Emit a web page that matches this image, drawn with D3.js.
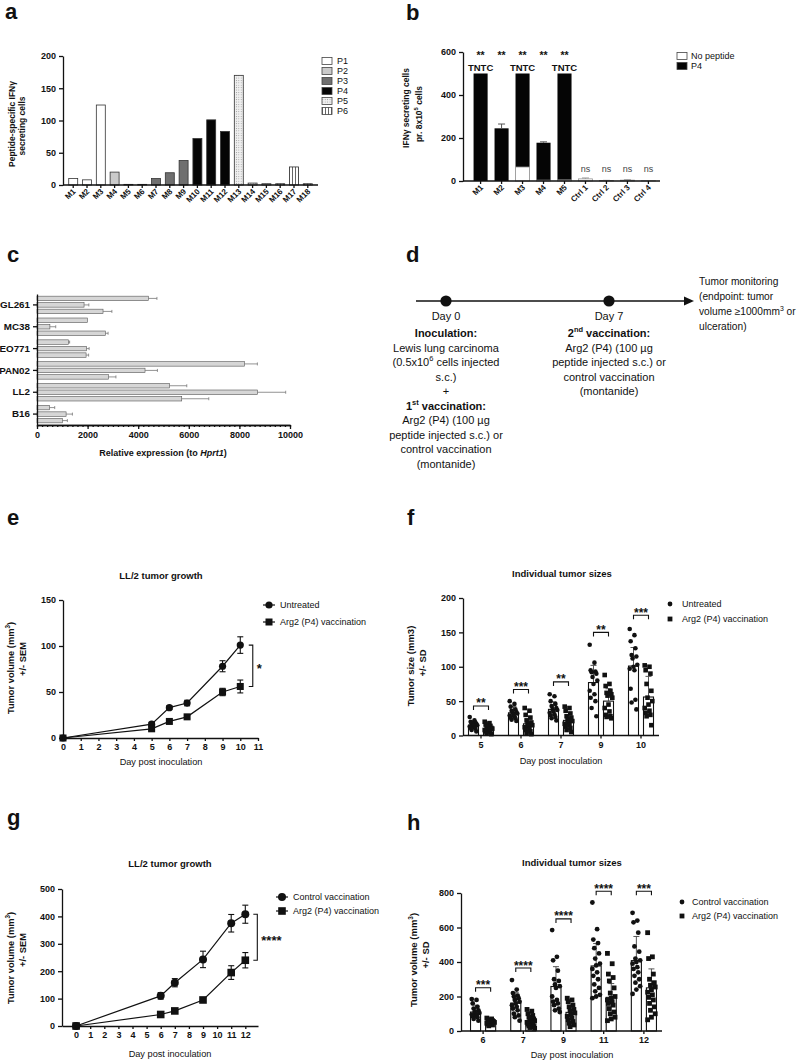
<!DOCTYPE html>
<html><head><meta charset="utf-8">
<script src="https://cdn.jsdelivr.net/npm/d3@7"></script>
<style>
body{margin:0;background:#fff;}
svg{display:block;}
</style></head><body>
<svg id="chart" width="800" height="1061"></svg>
<script>
// ================= DATA =================
// Panel a
const aCategories = ["M1","M2","M3","M4","M5","M6","M7","M8","M9","M10","M11","M12","M13","M14","M15","M16","M17","M18"];
const aValues = [10,8,124,20,1,1,10,19,38,72,101,83,170,3,2,2,28,2];
const aPeptides = ["P1","P1","P1","P2","P2","P2","P3","P3","P3","P4","P4","P4","P5","P5","P5","P6","P6","P6"];
const aLegend = ["P1","P2","P3","P4","P5","P6"];
const aTicks = [0,50,100,150,200];

// Panel b
const bCategories = ["M1","M2","M3","M4","M5","Ctrl 1","Ctrl 2","Ctrl 3","Ctrl 4"];
const bP4 = [500,245,500,178,500,0,0,0,0];
const bP4Err = [0,20,0,4,0,0,0,0,0];
const bNoPeptide = [0,0,65,4,5,10,2,4,1];
const bNoPeptideErr = [0,0,0,0,0,4,1,2,0];
const bSignif = ["**","**","**","**","**","ns","ns","ns","ns"];
const bTNTC = ["TNTC","","TNTC","","TNTC","","","",""];
const bLegend = ["No peptide","P4"];
const bTicks = [0,200,400,600];

// Panel c
const cCategories = ["GL261","MC38","EO771","PAN02","LL2","B16"];
const cBar1 = [4400,1990,1240,8200,5240,500];
const cBar1Err = [340,0,50,510,680,200];
const cBar2 = [1860,510,1960,4270,8720,1150];
const cBar2Err = [190,230,100,490,1110,250];
const cBar3 = [2610,2700,1940,2820,5720,1000];
const cBar3Err = [350,110,100,300,1070,200];
const cTicks = [0,2000,4000,6000,8000,10000];

// Panel d (timeline)
const dDays = [0,7];
const dDayLabels = ["Day 0","Day 7"];

// Panel e
const eDays = [0,5,6,7,9,10];
const eUntreated = [0,15,33,38,78,101];
const eUntreatedSEM = [0,2,2,3,6,9];
const eArg2 = [0,10,18,23,50,56];
const eArg2SEM = [0,2,2,2,4,7];
const eXTicks = [0,1,2,3,4,5,6,7,8,9,10,11];
const eYTicks = [0,50,100,150];
const eLegend = ["Untreated","Arg2 (P4) vaccination"];
const eSignif = "*";

// Panel f
const fDays = ["5","6","7","9","10"];
const fUntreatedMean = [15,33,38,77,101];
const fUntreatedSD = [6,9,11,25,27];
const fArg2Mean = [10,17,22,50,56];
const fArg2SD = [5,11,12,18,30];
const fUntreatedPoints = [
  [27,22,20,19,18,17,16,15,14,13,12,11,10,8,6],
  [50,46,42,38,36,34,33,32,30,29,28,26,25,23,21],
  [60,57,50,46,43,40,38,37,35,33,31,29,27,25,22],
  [132,106,95,93,92,90,85,80,75,65,60,55,50,40,28],
  [155,146,137,127,117,115,112,103,100,97,95,68,52,48,38]
];
const fArg2Points = [
  [20,18,16,14,12,11,10,10,9,8,7,6,5,3,2],
  [40,36,30,26,22,19,17,15,14,12,10,8,6,4,2],
  [42,40,36,32,28,26,23,21,19,17,15,13,11,8,5],
  [88,75,72,65,62,60,58,55,45,40,35,30,28,27,25],
  [102,100,95,90,75,65,55,50,45,40,36,33,30,28,15]
];
const fSignif = ["**","***","**","**","***"];
const fSignifLevel = [43,67,78,150,175];
const fYTicks = [0,50,100,150,200];
const fLegend = ["Untreated","Arg2 (P4) vaccination"];

// Panel g
const gDays = [0,6,7,9,11,12];
const gControl = [0,110,158,243,375,408];
const gControlSEM = [0,12,15,30,32,33];
const gArg2 = [0,42,55,95,195,240];
const gArg2SEM = [0,5,6,8,25,28];
const gXTicks = [0,1,2,3,4,5,6,7,8,9,10,11,12];
const gYTicks = [0,100,200,300,400,500];
const gLegend = ["Control vaccination","Arg2 (P4) vaccination"];
const gSignif = "****";

// Panel h
const hDays = ["6","7","9","11","12"];
const hControlMean = [110,162,258,377,408];
const hControlSD = [40,60,115,130,140];
const hArg2Mean = [55,58,108,195,250];
const hArg2SD = [18,30,40,80,110];
const hControlPoints = [
  [185,180,160,140,130,120,110,105,100,95,90,85,80,70,60],
  [295,240,220,205,200,190,180,170,160,150,140,130,120,100,90,80,60],
  [585,430,410,350,300,290,270,260,250,200,180,170,160,150,130,120,110],
  [745,590,530,510,480,450,420,390,380,360,340,320,300,270,250,230,210,200,190],
  [685,640,630,570,490,460,420,410,400,390,370,360,340,320,300,280,260,240,215]
];
const hArg2Points = [
  [75,70,65,60,58,55,52,50,48,45,42,40,35,30],
  [125,115,100,90,80,70,65,60,55,50,45,40,35,30,25,20,15],
  [190,180,170,150,140,125,115,105,95,85,75,65,55,45,35,25],
  [450,390,330,310,290,250,220,200,190,180,170,160,150,130,110,100,80,70,60],
  [570,430,420,330,300,280,265,255,240,225,210,195,180,160,140,120,100,80,65]
];
const hSignif = ["***","****","****","****","***"];
const hSignifLevel = [251,365,650,810,810];
const hYTicks = [0,200,400,600,800];
const hLegend = ["Control vaccination","Arg2 (P4) vaccination"];

// ================= HELPERS =================
const FONT = "'Liberation Sans', Arial, Helvetica, sans-serif";
const INK = "#111";
const TICK_FS = 9;
const svg = d3.select("#chart").attr("font-family", FONT);

const defs = svg.append("defs");
const p5 = defs.append("pattern").attr("id","pat5").attr("patternUnits","userSpaceOnUse").attr("width",2.4).attr("height",2.4);
p5.append("rect").attr("width",2.4).attr("height",2.4).attr("fill","#f0f0f0");
p5.append("circle").attr("cx",1.2).attr("cy",1.2).attr("r",0.5).attr("fill","#8a8a8a");
const p6 = defs.append("pattern").attr("id","pat6").attr("patternUnits","userSpaceOnUse").attr("width",3).attr("height",10);
p6.append("rect").attr("width",3).attr("height",10).attr("fill","#fff");
p6.append("line").attr("x1",1.5).attr("x2",1.5).attr("y1",0).attr("y2",10).attr("stroke","#555").attr("stroke-width",0.9);

function styleAxis(g, fs = TICK_FS, weight = "bold") {
  g.attr("font-family", FONT).attr("font-size", fs).attr("font-weight", weight);
  g.select(".domain").attr("stroke", INK).attr("stroke-width", 1.3);
  g.selectAll(".tick line").attr("stroke", INK).attr("stroke-width", 1.3);
  g.selectAll(".tick text").attr("fill", INK);
  return g;
}
function rich(parent, x, y, segs, o = {}) {
  const fs = o.fs || 9;
  const t = parent.append("text").attr("x", x).attr("y", y).attr("font-size", fs)
    .attr("text-anchor", o.anchor || "start").attr("fill", o.fill || INK)
    .attr("font-weight", o.bold ? "bold" : "normal");
  let shifted = false;
  segs.forEach(s => {
    if (typeof s === "string") s = {t: s};
    const ts = t.append("tspan").text(s.t);
    if (s.sup) { ts.attr("font-size", fs * 0.68).attr("dy", -fs * 0.42); shifted = true; }
    else if (shifted) { ts.attr("dy", fs * 0.42); shifted = false; }
    if (s.bold) ts.attr("font-weight", "bold");
    if (s.it) ts.attr("font-style", "italic");
  });
  return t;
}
function txt(x, y, str, o = {}) { return rich(svg, x, y, [str], o); }
function yTitle(cy, baseX, segs, fs) {
  const g = svg.append("g").attr("transform", `translate(0,${cy}) rotate(-90)`);
  rich(g, 0, baseX, segs, {fs, anchor: "middle", bold: true});
}
function panelLetter(x, y, l) { txt(x, y, l, {fs: 22, bold: true}); }
function hline(x1, x2, y, sw = 1.3) {
  svg.append("line").attr("x1", x1).attr("x2", x2).attr("y1", y).attr("y2", y).attr("stroke", INK).attr("stroke-width", sw);
}
function offsetFor(i) { return ((i * 5) % 9 - 4) * 0.95; }

// ================= PANEL A =================
panelLetter(5, 19, "a");
{
  const x = d3.scaleBand(aCategories, [63, 318]).paddingInner(0.35).paddingOuter(0.415);
  const y = d3.scaleLinear([0, 200], [185, 56]);
  const fillFor = {P1:"#fff", P2:"#cacaca", P3:"#6f6f6f", P4:"#050505", P5:"url(#pat5)", P6:"url(#pat6)"};
  svg.append("g").selectAll("rect").data(aValues).join("rect")
    .attr("x", (d, i) => x(aCategories[i])).attr("y", d => y(d))
    .attr("width", x.bandwidth()).attr("height", d => y(0) - y(d))
    .attr("fill", (d, i) => fillFor[aPeptides[i]]).attr("stroke", "#333").attr("stroke-width", 0.8);
  styleAxis(svg.append("g").attr("transform", "translate(63,0)")
    .call(d3.axisLeft(y).tickValues(aTicks).tickSize(4).tickSizeOuter(0)));
  const gx = styleAxis(svg.append("g").attr("transform", "translate(0,185)")
    .call(d3.axisBottom(x).tickSize(3).tickSizeOuter(0)), 8);
  gx.select(".domain").remove();
  gx.selectAll(".tick text").attr("y", 0).attr("dy", 0).attr("text-anchor", "end")
    .attr("transform", "translate(3,7) rotate(-45)");
  hline(63, 318, 185);
  yTitle(124, 15, ["Peptide-specific IFN\u03B3"], 8.5);
  yTitle(126, 25, ["secreting cells"], 8.5);
  const lg = svg.append("g");
  aLegend.forEach((p, i) => {
    const cy = 61 + i * 10;
    lg.append("rect").attr("x", 322).attr("y", cy - 3.5).attr("width", 10).attr("height", 7)
      .attr("fill", fillFor[p]).attr("stroke", "#444").attr("stroke-width", 0.8);
    rich(lg, 337, cy + 3.3, [p], {fs: 9});
  });
}

// ================= PANEL B =================
panelLetter(406, 20, "b");
{
  const x = d3.scaleBand(bCategories, [470, 659]).paddingInner(0.33).paddingOuter(0.17);
  const y = d3.scaleLinear([0, 600], [181, 52]);
  const g = svg.append("g");
  g.selectAll("rect.p4").data(bP4).join("rect").attr("class", "p4")
    .attr("x", (d, i) => x(bCategories[i])).attr("y", d => y(d))
    .attr("width", x.bandwidth()).attr("height", d => y(0) - y(d)).attr("fill", "#050505");
  g.selectAll("rect.np").data(bNoPeptide).join("rect").attr("class", "np")
    .attr("x", (d, i) => x(bCategories[i])).attr("y", d => y(d))
    .attr("width", x.bandwidth()).attr("height", d => y(0) - y(d))
    .attr("fill", "#fff").attr("stroke", "#999").attr("stroke-width", 0.8);
  bP4.forEach((v, i) => {
    if (!bP4Err[i]) return;
    const cx = x(bCategories[i]) + x.bandwidth() / 2;
    g.append("line").attr("x1", cx).attr("x2", cx).attr("y1", y(v)).attr("y2", y(v + bP4Err[i])).attr("stroke", "#555").attr("stroke-width", 1);
    g.append("line").attr("x1", cx - 3.5).attr("x2", cx + 3.5).attr("y1", y(v + bP4Err[i])).attr("y2", y(v + bP4Err[i])).attr("stroke", "#555").attr("stroke-width", 1);
  });
  bNoPeptide.forEach((v, i) => {
    if (!bNoPeptideErr[i]) return;
    const cx = x(bCategories[i]) + x.bandwidth() / 2;
    g.append("line").attr("x1", cx).attr("x2", cx).attr("y1", y(v)).attr("y2", y(v + bNoPeptideErr[i])).attr("stroke", "#999").attr("stroke-width", 1);
    g.append("line").attr("x1", cx - 3.5).attr("x2", cx + 3.5).attr("y1", y(v + bNoPeptideErr[i])).attr("y2", y(v + bNoPeptideErr[i])).attr("stroke", "#999").attr("stroke-width", 1);
  });
  styleAxis(svg.append("g").attr("transform", "translate(463,0)")
    .call(d3.axisLeft(y).tickValues(bTicks).tickSize(4).tickSizeOuter(0)));
  const gx = styleAxis(svg.append("g").attr("transform", "translate(0,181)")
    .call(d3.axisBottom(x).tickSize(3).tickSizeOuter(0)), 8);
  gx.select(".domain").remove();
  gx.selectAll(".tick text").attr("y", 0).attr("dy", 0).attr("text-anchor", "end")
    .attr("transform", "translate(3,7) rotate(-45)");
  hline(463, 660, 181);
  bCategories.forEach((c, i) => {
    const cx = x(c) + x.bandwidth() / 2;
    if (bSignif[i] === "ns") txt(cx, 172, "ns", {fs: 9, anchor: "middle", fill: "#444"});
    else txt(cx, 58.5, bSignif[i], {fs: 10.5, anchor: "middle", bold: true});
    if (bTNTC[i]) txt(cx, 71, bTNTC[i], {fs: 9.5, anchor: "middle", bold: true});
  });
  yTitle(108, 409, ["IFN\u03B3 secreting cells"], 8.5);
  yTitle(114, 422, ["pr. 8x10", {t: "5", sup: true}, " cells"], 8.5);
  const lg = svg.append("g");
  bLegend.forEach((l, i) => {
    const cy = 56 + i * 10;
    lg.append("rect").attr("x", 677).attr("y", cy - 3.5).attr("width", 10).attr("height", 7)
      .attr("fill", i === 0 ? "#fff" : "#050505").attr("stroke", "#444").attr("stroke-width", 0.8);
    rich(lg, 691, cy + 3.3, [l], {fs: 9});
  });
}

// ================= PANEL C =================
panelLetter(7, 262, "c");
{
  const y = d3.scaleBand(cCategories, [294, 425]);
  const inner = d3.scaleBand([0, 1, 2], [0, y.bandwidth()]).paddingInner(0.31).paddingOuter(0.334);
  const x = d3.scaleLinear([0, 10000], [37, 290]);
  const series = [[cBar1, cBar1Err], [cBar2, cBar2Err], [cBar3, cBar3Err]];
  const g = svg.append("g");
  cCategories.forEach((c, i) => {
    series.forEach(([vals, errs], j) => {
      const y0 = y(c) + inner(j);
      const v = vals[i];
      g.append("rect").attr("x", x(0)).attr("y", y0).attr("width", x(v) - x(0)).attr("height", inner.bandwidth())
        .attr("fill", "#d6d6d6").attr("stroke", "#555").attr("stroke-width", 0.6);
      const cy = y0 + inner.bandwidth() / 2;
      if (errs[i] > 0) {
        g.append("line").attr("x1", x(v)).attr("x2", x(v + errs[i])).attr("y1", cy).attr("y2", cy).attr("stroke", "#777").attr("stroke-width", 0.8);
        g.append("line").attr("x1", x(v + errs[i])).attr("x2", x(v + errs[i])).attr("y1", cy - 1.5).attr("y2", cy + 1.5).attr("stroke", "#777").attr("stroke-width", 0.8);
      }
    });
  });
  styleAxis(svg.append("g").attr("transform", "translate(37,0)")
    .call(d3.axisLeft(y).tickSize(4).tickSizeOuter(0)), 9.8);
  styleAxis(svg.append("g").attr("transform", "translate(0,425)")
    .call(d3.axisBottom(x).tickValues(d3.range(0, 10001, 200)).tickSize(2).tickFormat("").tickSizeOuter(0)));
  const gx = styleAxis(svg.append("g").attr("transform", "translate(0,425)")
    .call(d3.axisBottom(x).tickValues(cTicks).tickFormat(d3.format("d")).tickSize(4).tickSizeOuter(0)));
  gx.selectAll(".tick text").attr("y", 6.5);
  rich(svg, 163, 456, ["Relative expression (to  ", {t: "Hprt1", it: true}, ")"], {fs: 9, anchor: "middle", bold: true});
}

// ================= PANEL D =================
panelLetter(406, 262, "d");
{
  const x = d3.scaleLinear([0, 7], [446, 609]);
  const ly = 301;
  svg.append("line").attr("x1", 416).attr("x2", 686).attr("y1", ly).attr("y2", ly).attr("stroke", INK).attr("stroke-width", 1.3);
  svg.append("path").attr("d", `M684,${ly - 4.5}L694,${ly}L684,${ly + 4.5}Z`).attr("fill", INK);
  svg.selectAll("circle.tl").data(dDays).join("circle").attr("class", "tl")
    .attr("cx", d => x(d)).attr("cy", ly).attr("r", 5.6).attr("fill", INK);
  const fs = 11;
  dDays.forEach((d, i) => txt(x(d), 320, dDayLabels[i], {fs, anchor: "middle"}));
  const left = [
    [[{t: "Inoculation:", bold: true}], 337],
    [["Lewis lung carcinoma"], 351.5],
    [["(0.5x10", {t: "6", sup: true}, " cells injected"], 366],
    [["s.c.)"], 380.5],
    [["+"], 395],
    [[{t: "1", bold: true}, {t: "st", sup: true, bold: true}, {t: " vaccination:", bold: true}], 409.5],
    [["Arg2 (P4) (100 \u00B5g"], 424],
    [["peptide injected s.c.) or"], 438.5],
    [["control vaccination"], 453],
    [["(montanide)"], 467.5]
  ];
  left.forEach(([segs, yy]) => rich(svg, x(0), yy, segs, {fs, anchor: "middle"}));
  const right = [
    [["2", {t: "nd", sup: true}, " vaccination:"], 337, true],
    [["Arg2 (P4) (100 \u00B5g"], 351.5],
    [["peptide injected s.c.) or"], 366],
    [["control vaccination"], 380.5],
    [["(montanide)"], 395]
  ];
  right.forEach(([segs, yy, b]) => rich(svg, x(7), yy, segs, {fs, anchor: "middle", bold: !!b}));
  const mon = [
    [["Tumor monitoring"], 285],
    [["(endpoint: tumor"], 300],
    [["volume \u22651000mm", {t: "3", sup: true}, " or"], 315],
    [["ulceration)"], 330]
  ];
  mon.forEach(([segs, yy]) => rich(svg, 699, yy, segs, {fs: 10.2}));
}

// ============ line chart helper (e, g) ============
function lineChart(o) {
  const {x, y, days, s1, s1e, s2, s2e, r, sq} = o;
  const line = d3.line().x((d, i) => x(days[i])).y(d => y(d));
  const g = svg.append("g");
  [[s1, s1e], [s2, s2e]].forEach(([s, e]) => {
    g.append("path").attr("d", line(s)).attr("fill", "none").attr("stroke", INK).attr("stroke-width", 1.2);
    s.forEach((v, i) => {
      if (!e[i]) return;
      const cx = x(days[i]);
      g.append("line").attr("x1", cx).attr("x2", cx).attr("y1", y(v - e[i])).attr("y2", y(v + e[i])).attr("stroke", INK).attr("stroke-width", 1.1);
      [v - e[i], v + e[i]].forEach(ev => g.append("line").attr("x1", cx - 3).attr("x2", cx + 3).attr("y1", y(ev)).attr("y2", y(ev)).attr("stroke", INK).attr("stroke-width", 1.1));
    });
  });
  g.selectAll("circle").data(s1).join("circle").attr("cx", (d, i) => x(days[i])).attr("cy", d => y(d)).attr("r", r).attr("fill", INK);
  g.selectAll("rect").data(s2).join("rect").attr("x", (d, i) => x(days[i]) - sq / 2).attr("y", d => y(d) - sq / 2)
    .attr("width", sq).attr("height", sq).attr("fill", INK);
}
function lineLegend(x0, y1, y2, labels, r, sq, tx) {
  const g = svg.append("g");
  [y1, y2].forEach(yy => g.append("line").attr("x1", x0 - 6).attr("x2", x0 + 6).attr("y1", yy).attr("y2", yy).attr("stroke", INK).attr("stroke-width", 1.2));
  g.append("circle").attr("cx", x0).attr("cy", y1).attr("r", r).attr("fill", INK);
  g.append("rect").attr("x", x0 - sq / 2).attr("y", y2 - sq / 2).attr("width", sq).attr("height", sq).attr("fill", INK);
  rich(g, tx, y1 + 3.2, [labels[0]], {fs: 9});
  rich(g, tx, y2 + 3.2, [labels[1]], {fs: 9});
}
function bracketV(xb, ya, yb, label, fs) {
  const g = svg.append("g");
  g.append("path").attr("d", `M${xb - 4},${ya}H${xb}V${yb}H${xb - 4}`).attr("fill", "none").attr("stroke", INK).attr("stroke-width", 1.1);
  rich(g, xb + 4, (ya + yb) / 2 + 7.5, [label], {fs, bold: true});
}

// ================= PANEL E =================
panelLetter(7, 525, "e");
{
  const x = d3.scaleLinear([0, 11], [63, 258]);
  const y = d3.scaleLinear([0, 150], [738, 600]);
  lineChart({x, y, days: eDays, s1: eUntreated, s1e: eUntreatedSEM, s2: eArg2, s2e: eArg2SEM, r: 3.6, sq: 7});
  styleAxis(svg.append("g").attr("transform", "translate(63,0)")
    .call(d3.axisLeft(y).tickValues(eYTicks).tickSize(4).tickSizeOuter(0)));
  styleAxis(svg.append("g").attr("transform", "translate(0,738)")
    .call(d3.axisBottom(x).tickValues(eXTicks).tickSize(3).tickSizeOuter(0)));
  txt(161, 579, "LL/2 tumor growth", {fs: 9.5, bold: true, anchor: "middle"});
  txt(161, 765, "Day post inoculation", {fs: 9.2, anchor: "middle"});
  yTitle(668, 14, ["Tumor volume (mm", {t: "3", sup: true}, ")"], 9.3);
  yTitle(659, 26, ["+/- SEM"], 9.3);
  lineLegend(269, 605, 622, eLegend, 3.6, 7, 280);
  bracketV(x(10) + 12.5, y(eUntreated[5]), y(eArg2[5]), eSignif, 13);
}

// ============ scatter-bar helper (f, h) ============
function dotBarChart(o) {
  const {x, inner, y, cats, m1, sd1, m2, sd2, p1, p2, sig, sigLvl, r, sq} = o;
  const g = svg.append("g");
  cats.forEach((c, i) => {
    [[m1, sd1, p1, 0], [m2, sd2, p2, 1]].forEach(([m, sd, pts, k]) => {
      const x0 = x(c) + inner(k);
      const bw = inner.bandwidth();
      const cx = x0 + bw / 2;
      g.append("rect").attr("x", x0).attr("y", y(m[i])).attr("width", bw).attr("height", y(0) - y(m[i]))
        .attr("fill", "#fff").attr("stroke", INK).attr("stroke-width", 1.1);
      g.append("line").attr("x1", cx).attr("x2", cx).attr("y1", y(m[i])).attr("y2", y(m[i] + sd[i])).attr("stroke", "#444").attr("stroke-width", 0.9);
      g.append("line").attr("x1", cx - 3).attr("x2", cx + 3).attr("y1", y(m[i] + sd[i])).attr("y2", y(m[i] + sd[i])).attr("stroke", "#444").attr("stroke-width", 0.9);
      pts[i].forEach((v, j) => {
        const px = cx + offsetFor(j);
        if (k === 0) g.append("circle").attr("cx", px).attr("cy", y(v)).attr("r", r).attr("fill", INK);
        else g.append("rect").attr("x", px - sq / 2).attr("y", y(v) - sq / 2).attr("width", sq).attr("height", sq).attr("fill", INK);
      });
    });
    const xa = x(c) + inner(0) + inner.bandwidth() / 2;
    const xb = x(c) + inner(1) + inner.bandwidth() / 2;
    const yb = y(sigLvl[i]);
    g.append("path").attr("d", `M${xa},${yb + 4}V${yb}H${xb}V${yb + 4}`).attr("fill", "none").attr("stroke", INK).attr("stroke-width", 1.1);
    rich(g, (xa + xb) / 2, yb + 1.5, [sig[i]], {fs: 12, bold: true, anchor: "middle"});
  });
}
function dotLegend(x0, y1, y2, labels, tx) {
  const g = svg.append("g");
  g.append("circle").attr("cx", x0).attr("cy", y1).attr("r", 2.4).attr("fill", INK);
  g.append("rect").attr("x", x0 - 2.4).attr("y", y2 - 2.4).attr("width", 4.8).attr("height", 4.8).attr("fill", INK);
  rich(g, tx, y1 + 3.2, [labels[0]], {fs: 9});
  rich(g, tx, y2 + 3.2, [labels[1]], {fs: 9});
}

// ================= PANEL F =================
panelLetter(407, 525, "f");
{
  const x = d3.scaleBand(fDays, [461, 661]);
  const inner = d3.scaleBand([0, 1], [0, x.bandwidth()]).paddingInner(1 / 3).paddingOuter(0.5);
  const y = d3.scaleLinear([0, 200], [735.5, 598]);
  dotBarChart({x, inner, y, cats: fDays, m1: fUntreatedMean, sd1: fUntreatedSD, m2: fArg2Mean, sd2: fArg2SD,
    p1: fUntreatedPoints, p2: fArg2Points, sig: fSignif, sigLvl: fSignifLevel, r: 2.3, sq: 4.6});
  styleAxis(svg.append("g").attr("transform", "translate(463,0)")
    .call(d3.axisLeft(y).tickValues(fYTicks).tickSize(4).tickSizeOuter(0)));
  const gx = styleAxis(svg.append("g").attr("transform", "translate(0,735.5)")
    .call(d3.axisBottom(x).tickSize(3).tickSizeOuter(0)));
  gx.select(".domain").remove();
  hline(463, 659, 735.5);
  txt(562, 577, "Individual tumor sizes", {fs: 9.5, bold: true, anchor: "middle"});
  txt(561, 764, "Day post inoculation", {fs: 9.2, anchor: "middle"});
  yTitle(666, 414, ["Tumor size (mm3)"], 9.5);
  yTitle(663, 426, ["+/- SD"], 9.5);
  dotLegend(670, 604, 619, fLegend, 682);
}

// ================= PANEL G =================
panelLetter(7, 825, "g");
{
  const x = d3.scaleLinear([-1, 12.9], [62, 258]);
  const y = d3.scaleLinear([0, 500], [1026, 889]);
  lineChart({x, y, days: gDays, s1: gControl, s1e: gControlSEM, s2: gArg2, s2e: gArg2SEM, r: 4, sq: 7.6});
  styleAxis(svg.append("g").attr("transform", "translate(62,0)")
    .call(d3.axisLeft(y).tickValues(gYTicks).tickSize(4).tickSizeOuter(0)));
  styleAxis(svg.append("g").attr("transform", "translate(0,1026)")
    .call(d3.axisBottom(x).tickValues(gXTicks).tickSize(3).tickSizeOuter(0)));
  txt(170, 867, "LL/2 tumor growth", {fs: 9.5, bold: true, anchor: "middle"});
  txt(170, 1057, "Day post inoculation", {fs: 9.2, anchor: "middle"});
  yTitle(958, 14, ["Tumor volume (mm", {t: "3", sup: true}, ")"], 9.3);
  yTitle(950, 26, ["+/- SEM"], 9.3);
  lineLegend(282, 897, 911, gLegend, 4, 7.6, 293);
  bracketV(x(12) + 12, y(gControl[5]), y(gArg2[5]), gSignif, 13);
}

// ================= PANEL H =================
panelLetter(407, 830, "h");
{
  const x = d3.scaleBand(hDays, [463, 664]);
  const inner = d3.scaleBand([0, 1], [0, x.bandwidth()]).paddingInner(1 / 3).paddingOuter(0.5);
  const y = d3.scaleLinear([0, 800], [1031, 893]);
  dotBarChart({x, inner, y, cats: hDays, m1: hControlMean, sd1: hControlSD, m2: hArg2Mean, sd2: hArg2SD,
    p1: hControlPoints, p2: hArg2Points, sig: hSignif, sigLvl: hSignifLevel, r: 2.4, sq: 4.8});
  styleAxis(svg.append("g").attr("transform", "translate(461,0)")
    .call(d3.axisLeft(y).tickValues(hYTicks).tickSize(4).tickSizeOuter(0)));
  const gx = styleAxis(svg.append("g").attr("transform", "translate(0,1031)")
    .call(d3.axisBottom(x).tickSize(3).tickSizeOuter(0)));
  gx.select(".domain").remove();
  hline(461, 662, 1031);
  txt(572, 866, "Individual tumor sizes", {fs: 9.5, bold: true, anchor: "middle"});
  txt(572, 1058, "Day post inoculation", {fs: 9.2, anchor: "middle"});
  yTitle(960, 417, ["Tumor volume (mm", {t: "3", sup: true}, ")"], 9.5);
  yTitle(955, 429, ["+/- SD"], 9.5);
  dotLegend(682, 902, 916, hLegend, 692);
}
</script>
</body></html>
